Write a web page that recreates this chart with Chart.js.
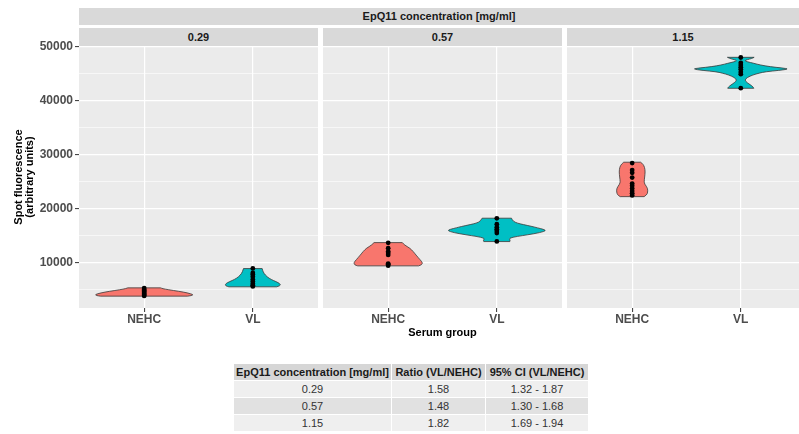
<!DOCTYPE html>
<html>
<head>
<meta charset="utf-8">
<script src="https://cdn.jsdelivr.net/npm/chart.js@4.4.1/dist/chart.umd.min.js"></script>
<style>
  body { margin: 0; width: 799px; height: 434px; overflow: hidden; background: #fff;
         font-family: "Liberation Sans", Arial, sans-serif; position: relative; }
  .strip { position: absolute; background: #d9d9d9; color: #1a1a1a; font-weight: bold;
           font-size: 11px; text-align: center; }
  .panel { position: absolute; top: 30px; }
  table { position: absolute; left: 233px; top: 363px; border-collapse: collapse;
          font-size: 11px; color: #333; table-layout: fixed; }
  td, th { height: 16px; padding: 0; text-align: center; border: 1px solid #fff; white-space: nowrap; }
  th { background: #d6d6d6; color: #1a1a1a; }
  tr.odd td { background: #efefef; }
  tr.even td { background: #e1e1e1; }
</style>
</head>
<body>
<div class="strip" style="left:79px;top:8px;width:720px;height:17px;line-height:17px">EpQ11 concentration [mg/ml]</div>
<div id="panels"></div>
<table id="ratioTable"></table>

<script>
// facets and groups
const concentrations = ['0.29', '0.57', '1.15'];
const categories = ['NEHC', 'VL'];

const nehcPoints = [
  [3750, 3900, 4100, 4300, 4500, 4700, 4900, 5200],
  [9350, 9600, 9750, 11350, 11700, 12000, 12600, 13600],
  [22400, 22800, 23200, 23700, 24200, 24600, 25700, 26600, 27100, 28400]
];
const vlPoints = [
  [5500, 5700, 6000, 6400, 6800, 7300, 7700, 8000, 8850],
  [13850, 15400, 15800, 16100, 16500, 17050, 18150],
  [42300, 44900, 45300, 45800, 46200, 46600, 47000, 48000]
];

// violin outlines: levels (y) and half widths (x units)
const nehcLevels = [
  [3700, 3800, 4000, 4300, 4600, 4900, 5100, 5240],
  [9320, 9500, 9930, 10430, 11360, 12000, 12600, 13200, 13640],
  [22170, 22500, 23000, 23730, 24500, 24960, 25800, 26760, 27600, 28200, 28560]
];
const nehcWidths = [
  [0.40, 0.44, 0.452, 0.40, 0.32, 0.22, 0.17, 0.15],
  [0.28, 0.31, 0.316, 0.295, 0.255, 0.23, 0.20, 0.15, 0.13],
  [0.11, 0.135, 0.143, 0.143, 0.115, 0.11, 0.115, 0.12, 0.115, 0.10, 0.078]
];
const vlLevels = [
  [5430, 5600, 5900, 6200, 6600, 7000, 7600, 8200, 8820],
  [13830, 14100, 14460, 14800, 15070, 15500, 15870, 16100, 16400, 16610, 17000, 17240, 17600, 18170],
  [42280, 42500, 42900, 43300, 43800, 44300, 44750, 45100, 45360, 45600, 45860, 46050, 46290, 46600, 46920, 47200, 47400, 47600, 47800, 48030]
];
const vlWidths = [
  [0.22, 0.25, 0.254, 0.235, 0.19, 0.15, 0.115, 0.095, 0.086],
  [0.12, 0.125, 0.11, 0.19, 0.28, 0.40, 0.454, 0.43, 0.37, 0.33, 0.24, 0.19, 0.15, 0.135],
  [0.12, 0.115, 0.09, 0.06, 0.035, 0.06, 0.11, 0.17, 0.23, 0.35, 0.446, 0.38, 0.27, 0.18, 0.12, 0.06, 0.035, 0.06, 0.10, 0.123]
];

const yTicks = [10000, 20000, 30000, 40000, 50000];
const yMinorTicks = [5000, 15000, 25000, 35000, 45000];

// table under the plot
const tableHeader = ['EpQ11 concentration [mg/ml]', 'Ratio (VL/NEHC)', '95% CI (VL/NEHC)'];
const tableRatio = ['1.58', '1.48', '1.82'];
const tableCI = ['1.32 - 1.87', '1.30 - 1.68', '1.69 - 1.94'];

const fillColors = ['#F8766D', '#00BFC4'];

// panel layout (pixels); chart.js keeps 4px either side of the plot area
const plotLeft = [79, 323, 567];
const plotWidth = [239, 239, 232];
const xMax = [2.6, 2.6, 2.536];
const colWidth = [157, 93, 102];
const EDGE = 4;

function smoothSide(ctx, pts) {
  ctx.lineTo(pts[0][0], pts[0][1]);
  for (let i = 1; i < pts.length - 1; i++) {
    const mx = (pts[i][0] + pts[i + 1][0]) / 2, my = (pts[i][1] + pts[i + 1][1]) / 2;
    ctx.quadraticCurveTo(pts[i][0], pts[i][1], mx, my);
  }
  const l = pts[pts.length - 1];
  ctx.lineTo(l[0], l[1]);
}

function drawViolin(chart, xc, levels, widths, color) {
  const xs = chart.scales.x, ys = chart.scales.y, ctx = chart.ctx;
  const right = levels.map((v, k) => [xs.getPixelForValue(xc + widths[k]), ys.getPixelForValue(v)]);
  const left = levels.map((v, k) => [xs.getPixelForValue(xc - widths[k]), ys.getPixelForValue(v)]).reverse();
  ctx.save();
  ctx.beginPath();
  ctx.moveTo(left[left.length - 1][0], left[left.length - 1][1]);
  smoothSide(ctx, right);
  smoothSide(ctx, left);
  ctx.closePath();
  ctx.fillStyle = color;
  ctx.fill();
  ctx.strokeStyle = '#3a3a3a';
  ctx.lineWidth = 0.8;
  ctx.stroke();
  ctx.restore();
}

const panelsDiv = document.getElementById('panels');

concentrations.forEach((conc, i) => {
  const first = i === 0;

  const strip = document.createElement('div');
  strip.className = 'strip';
  strip.style.cssText = `left:${plotLeft[i]}px;top:28px;width:${plotWidth[i]}px;height:18px;line-height:18px`;
  strip.textContent = conc;
  panelsDiv.appendChild(strip);

  const box = document.createElement('div');
  box.className = 'panel';
  const canvasLeft = first ? 0 : plotLeft[i] - EDGE;
  box.style.left = canvasLeft + 'px';
  const canvas = document.createElement('canvas');
  canvas.width = plotLeft[i] + plotWidth[i] + EDGE - canvasLeft;
  canvas.height = 320;
  box.appendChild(canvas);
  panelsDiv.appendChild(box);

  const pts = nehcPoints[i].map(v => ({x: 1, y: v})).concat(vlPoints[i].map(v => ({x: 2, y: v})));

  new Chart(canvas.getContext('2d'), {
    type: 'scatter',
    data: {
      datasets: [{
        data: pts,
        backgroundColor: '#000',
        borderWidth: 0,
        pointRadius: 2.4
      }]
    },
    options: {
      responsive: false,
      animation: false,
      layout: { padding: { top: 16, left: 0, right: 0, bottom: 0 } },
      plugins: { legend: { display: false }, tooltip: { enabled: false } },
      scales: {
        x: {
          type: 'linear',
          min: 0.4,
          max: xMax[i],
          afterBuildTicks: s => { s.ticks = categories.map((c, k) => ({value: k + 1})); },
          afterFit: s => { s.height = 42; },
          border: { display: false },
          grid: { color: '#ffffff', lineWidth: 1.2, tickColor: '#333', tickLength: 4, tickWidth: 1 },
          ticks: {
            callback: v => categories[v - 1],
            color: '#4d4d4d',
            font: { family: 'Liberation Sans', size: 12, weight: 'bold' },
            padding: 0,
            maxRotation: 0,
            autoSkip: false
          },
          title: {
            display: i === 1,
            text: 'Serum group',
            color: '#000',
            font: { family: 'Liberation Sans', size: 11, weight: 'bold' },
            padding: { top: 0, bottom: 10 }
          }
        },
        y: {
          min: 1500,
          max: 50130,
          afterBuildTicks: s => {
            s.ticks = yTicks.concat(yMinorTicks).sort((a, b) => a - b).map(v => ({value: v}));
          },
          afterFit: s => { s.width = first ? 79 : 0; },
          border: { display: false },
          grid: {
            color: '#ffffff',
            lineWidth: c => yTicks.includes(c.tick.value) ? 1.2 : 0.6,
            drawTicks: first,
            tickLength: 4,
            tickWidth: 1,
            tickColor: c => yTicks.includes(c.tick.value) ? '#333' : 'rgba(0,0,0,0)'
          },
          ticks: {
            display: first,
            callback: v => yTicks.includes(v) ? String(v) : '',
            color: '#4d4d4d',
            font: { family: 'Liberation Sans', size: 12, weight: 'bold' },
            padding: 2
          },
          title: {
            display: first,
            text: ['Spot fluorescence', '(arbitrary units)'],
            color: '#000',
            font: { family: 'Liberation Sans', size: 11, weight: 'bold', lineHeight: 1.05 },
            padding: { top: 13, bottom: 0 }
          }
        }
      }
    },
    plugins: [{
      id: 'panelViolins',
      beforeDraw(chart) {
        const a = chart.chartArea, ctx = chart.ctx;
        ctx.save();
        ctx.fillStyle = '#ebebeb';
        ctx.fillRect(a.left, a.top, a.right - a.left, a.bottom - a.top);
        ctx.restore();
      },
      beforeDatasetsDraw(chart) {
        drawViolin(chart, 1, nehcLevels[i], nehcWidths[i], fillColors[0]);
        drawViolin(chart, 2, vlLevels[i], vlWidths[i], fillColors[1]);
      }
    }]
  });
});

// table
const table = document.getElementById('ratioTable');
let html = '<tr>' + tableHeader.map((h, k) => `<th style="width:${colWidth[k]}px">${h}</th>`).join('') + '</tr>';
concentrations.forEach((c, k) => {
  html += `<tr class="${k % 2 === 0 ? 'odd' : 'even'}"><td>${c}</td><td>${tableRatio[k]}</td><td>${tableCI[k]}</td></tr>`;
});
table.innerHTML = html;
</script>
</body>
</html>
